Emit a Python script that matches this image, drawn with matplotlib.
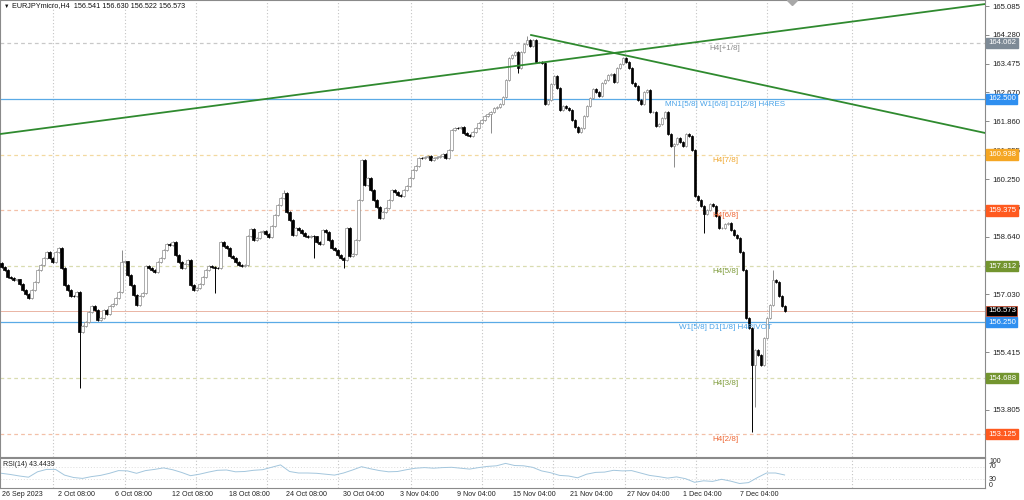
# EURJPYmicro H4 蜡烛图 + 价位线 + RSI(14)
import matplotlib
matplotlib.use('Agg')
import matplotlib.pyplot as plt
import matplotlib.transforms as mtrans

plt.rcParams['font.family'] = ['Liberation Sans', 'DejaVu Sans']

first_open = 157.90
closes = [
    157.80, 157.71, 157.52, 157.49, 157.43, 157.45, 157.32, 157.15, 157.04, 156.93,
    157.15, 157.38, 157.71, 157.85, 158.05, 158.21, 158.05, 157.93, 158.21, 158.33,
    157.77, 157.29, 157.15, 156.99, 156.98, 157.10, 155.98, 156.15, 156.26, 156.54,
    156.71, 156.59, 156.31, 156.37, 156.59, 156.48, 156.70, 156.76, 156.93, 157.10,
    157.93, 157.95, 157.57, 157.29, 157.01, 156.73, 156.98, 157.07, 157.82, 157.77,
    157.71, 157.66, 157.93, 158.05, 158.27, 158.44, 158.42, 158.49, 158.13, 157.93,
    157.77, 157.88, 157.99, 157.29, 157.15, 157.21, 157.32,
    157.52, 157.71, 157.82, 157.80, 157.77, 157.76, 158.49, 158.38, 158.33, 158.10,
    158.05, 157.93, 157.85, 157.82, 157.86, 158.66, 158.86, 158.55, 158.61, 158.77,
    158.80, 158.72, 158.63, 158.94, 159.25, 159.53, 159.72, 159.86, 159.33, 159.11,
    158.69, 158.88, 158.83, 158.75, 158.66, 158.63, 158.66, 158.65, 158.49, 158.44,
    158.83, 158.77, 158.55, 158.33, 158.27, 158.13, 158.05, 157.99, 158.88, 158.10,
    158.16, 158.55, 159.67, 160.78, 160.09, 160.28, 159.95, 159.67, 159.47, 159.16,
    159.33, 159.44, 159.67, 159.95, 159.89, 159.81,
    159.78, 159.95, 160.06, 160.28, 160.50, 160.62, 160.84, 160.83, 160.87, 160.90,
    160.78, 160.84, 160.87, 160.90, 160.95, 160.84, 161.06, 161.62, 161.68, 161.67,
    161.71, 161.54, 161.48, 161.45, 161.57, 161.68, 161.82, 161.90, 162.01, 162.07,
    162.12, 162.24, 162.26, 162.35, 162.54, 163.02, 163.63, 163.72, 163.80, 163.35,
    163.80, 164.02, 164.14, 163.97, 164.14, 163.52, 163.53, 163.49, 162.35, 162.46,
    162.91, 163.13, 162.80, 162.18, 162.29, 162.24, 162.18, 161.90, 161.71, 161.57,
    161.68, 162.01, 162.29, 162.52, 162.77, 162.68, 162.57,
    162.93, 163.02, 163.16, 163.19, 162.96, 163.35, 163.47, 163.63, 163.52, 163.35,
    162.93, 162.85, 162.46, 162.35, 162.68, 162.74, 162.12, 162.13, 161.73, 161.79,
    161.96, 162.12, 161.51, 161.18, 161.23, 161.40, 161.29, 161.17, 161.51, 161.45,
    161.06, 159.78, 159.67, 159.50, 159.28, 159.39, 159.55, 159.50, 159.22, 158.88,
    158.89, 159.00, 159.02, 158.83, 158.69, 158.61, 158.21, 157.71, 156.37, 156.09,
    155.06, 155.48, 155.34, 155.06, 155.81, 156.37, 156.73, 157.43, 157.38, 156.99,
    156.71, 156.573,
]
# 明显的长影线
spike_hi_idx = [40, 94, 120, 175, 207, 257]
spike_hi = [158.27, 159.95, 160.82, 164.25, 163.66, 157.71]
spike_lo_idx = [26, 71, 104, 114, 163, 172, 224, 234, 250, 251]
spike_lo = [154.41, 157.07, 158.05, 157.77, 161.54, 163.22, 160.59, 158.75, 153.20, 153.88]

rsi_idx = list(range(0, 262, 3))
rsi = [
    49, 45, 40, 36, 54, 62, 62, 43, 35, 32,
    38, 42, 49, 58, 57, 49, 58, 62, 67, 61,
    52, 41, 46, 53, 59, 60, 54, 55, 59, 61,
    69, 77, 55, 50, 50, 49, 46, 43, 50, 60,
    71, 64, 58, 54, 55, 61, 66, 68, 66, 68,
    69, 66, 63, 68, 72, 74, 82, 75,
    74, 69, 57, 51, 42, 40, 34, 46, 52, 53,
    59, 57, 58, 50, 42, 38, 33, 37, 31, 19,
    24, 22, 29, 23, 15, 18, 35, 50, 50, 43.44,
]

levels = [164.062, 162.500, 160.938, 159.375, 157.812, 156.250, 154.688, 153.125]
level_names = ['H4[+1/8]', 'MN1[5/8] W1[6/8] D1[2/8] H4RES', 'H4[7/8]', 'H4[6/8]',
               'H4[5/8]', 'W1[5/8] D1[1/8] H4PIVOT', 'H4[3/8]', 'H4[2/8]']
last_price = 156.573
price_ticks = [165.085, 164.280, 163.475, 162.670, 161.860, 161.055, 160.250, 159.445,
               158.640, 157.835, 157.030, 155.415, 153.805]
date_pos = [0.2, 18.8, 37.8, 56.8, 75.8, 94.8, 113.8, 132.8, 151.8, 170.5, 189.5,
            208.5, 227.2, 246.2]
date_labels = ['26 Sep 2023', '2 Oct 08:00', '6 Oct 08:00', '12 Oct 08:00', '18 Oct 08:00',
               '24 Oct 08:00', '30 Oct 04:00', '3 Nov 04:00', '9 Nov 04:00', '15 Nov 04:00',
               '21 Nov 04:00', '27 Nov 04:00', '1 Dec 04:00', '7 Dec 04:00']
grid_pos = [17.2, 41.2, 64.8, 88.5, 112.2, 136.5, 160.2, 183.8, 207.8, 231.5, 255.2, 283.5]
trend_up_x, trend_up_y = [-0.5, 327.8], [161.51, 165.14]
trend_dn_x, trend_dn_y = [176.5, 327.8], [164.275, 161.54]

# 样式: 线色, 线型, 文字色, 标签底色
level_styles = [
    ('#c8c8c8', 'dash', '#8c8c8c', '#7d8a96'),
    ('#5aaae6', 'solid', '#4aa3e8', '#2f8ff0'),
    ('#f3d9a0', 'dash', '#f0a830', '#f5a623'),
    ('#f3c0a8', 'dash', '#ee6633', '#ff5a1f'),
    ('#d9dcb0', 'dash', '#7c9a38', '#73952f'),
    ('#5aaae6', 'solid', '#4aa3e8', '#2f8ff0'),
    ('#d9dcb0', 'dash', '#7c9a38', '#73952f'),
    ('#f3c0a8', 'dash', '#ee6633', '#ff5a1f'),
]

fig = plt.figure(figsize=(10.24, 5.0), dpi=100)
W, H = 1024, 500
ax = fig.add_axes([0, 43 / H, 985 / W, 457 / H])
ax_r = fig.add_axes([0, 12 / H, 985 / W, 30 / H])
XMAX = 327.8
for a in (ax, ax_r):
    a.set_xlim(-0.5, XMAX)
    for s in a.spines.values():
        s.set_color('#8a8a8a')
        s.set_linewidth(0.8)
ax.set_ylim(152.49, 165.253)
ax_r.set_ylim(0, 100)

# 网格竖线
for p in grid_pos:
    ax.axvline(p, color='#c4c4c4', lw=0.8, ls=(0, (1, 2)), zorder=0)
    ax_r.axvline(p, color='#c4c4c4', lw=0.8, ls=(0, (1, 2)), zorder=0)

# 价位线
for lv, name, st in zip(levels, level_names, level_styles):
    ls = (0, (3, 2.5)) if st[1] == 'dash' else '-'
    ax.axhline(lv, color=st[0], lw=0.9, ls=ls, zorder=1)
    ax.annotate(name, (241.2, lv), xytext=(0, -2), textcoords='offset pixels',
                ha='center', va='top', fontsize=5.8, color=st[2], zorder=4)
ax.axhline(last_price, color='#eab4a4', lw=0.7, zorder=1)

# 蜡烛
opens = [first_open] + closes[:-1]
pad = 0.025
for i, (o, c) in enumerate(zip(opens, closes)):
    hi = max(o, c) + pad
    lo = min(o, c) - pad
    if i in spike_hi_idx:
        hi = spike_hi[spike_hi_idx.index(i)]
    if i in spike_lo_idx:
        lo = spike_lo[spike_lo_idx.index(i)]
    bull = c >= o
    col = '#8c8c8c' if bull else 'black'
    ax.vlines(i, lo, hi, color=col, lw=0.7, zorder=2)
    h = max(abs(c - o), 0.012)
    ax.bar(i, h, bottom=min(o, c), width=0.7,
           color='white' if bull else 'black', edgecolor=col, lw=0.5, zorder=3)

# 趋势线
ax.plot(trend_up_x, trend_up_y, color='#2f8a2f', lw=1.3, zorder=4)
ax.plot(trend_dn_x, trend_dn_y, color='#2f8a2f', lw=1.3, zorder=4)
ax.plot([263.5], [165.25], marker='D', ms=5, color='#a8a8a8', zorder=4)

# 右侧价格轴
ax.yaxis.tick_right()
ax.set_yticks(price_ticks)
ax.set_yticklabels(['%.3f' % v for v in price_ticks])
ax.tick_params(axis='y', length=3, width=0.6, color='#777', labelsize=5.6,
               pad=2, labelcolor='#222')
ax.set_xticks([])
bt = mtrans.blended_transform_factory(ax.transAxes, ax.transData)
for lv, st in zip(levels, level_styles):
    ax.text(1.0 + 3 / 985, lv, '%.3f' % lv, transform=bt, ha='left', va='center',
            fontsize=5.6, color='white', clip_on=False, zorder=6,
            bbox=dict(boxstyle='square,pad=0.2', fc=st[3], ec=st[3]))
ax.text(1.0 + 3 / 985, last_price, '%.3f' % last_price, transform=bt, ha='left',
        va='center', fontsize=5.6, color='white', clip_on=False, zorder=7,
        bbox=dict(boxstyle='square,pad=0.2', fc='black', ec='#d04020', lw=0.5))

# RSI
ax_r.axhline(70, color='#dcdcdc', lw=0.7, ls=(0, (1, 2)))
ax_r.axhline(30, color='#dcdcdc', lw=0.7, ls=(0, (1, 2)))
ax_r.plot(rsi_idx, rsi, color='#a3c6dd', lw=0.7)
ax_r.text(0.003, 0.9, 'RSI(14) 43.4439', transform=ax_r.transAxes, va='top',
          fontsize=5, color='#222')
ax_r.set_yticks([])
for v, yy in zip(['100', '70', '30', '0'], [0.87, 0.73, 0.27, 0.07]):
    ax_r.text(1.0 + 4 / 985, yy, v, transform=ax_r.transAxes, ha='left', va='center',
              fontsize=5, color='#222', clip_on=False)
ax_r.set_xticks(date_pos)
ax_r.set_xticklabels(date_labels, ha='left', fontsize=5.1, color='#222')
ax_r.tick_params(axis='x', length=0, pad=2.5)

fig.text(4 / W, 1 - 6 / H, '▼', fontsize=4, va='center', color='#111')
fig.text(12 / W, 1 - 6 / H, 'EURJPYmicro,H4  156.541 156.630 156.522 156.573',
         fontsize=5.2, va='center', color='#111')

fig.savefig('out.png', dpi=100)
